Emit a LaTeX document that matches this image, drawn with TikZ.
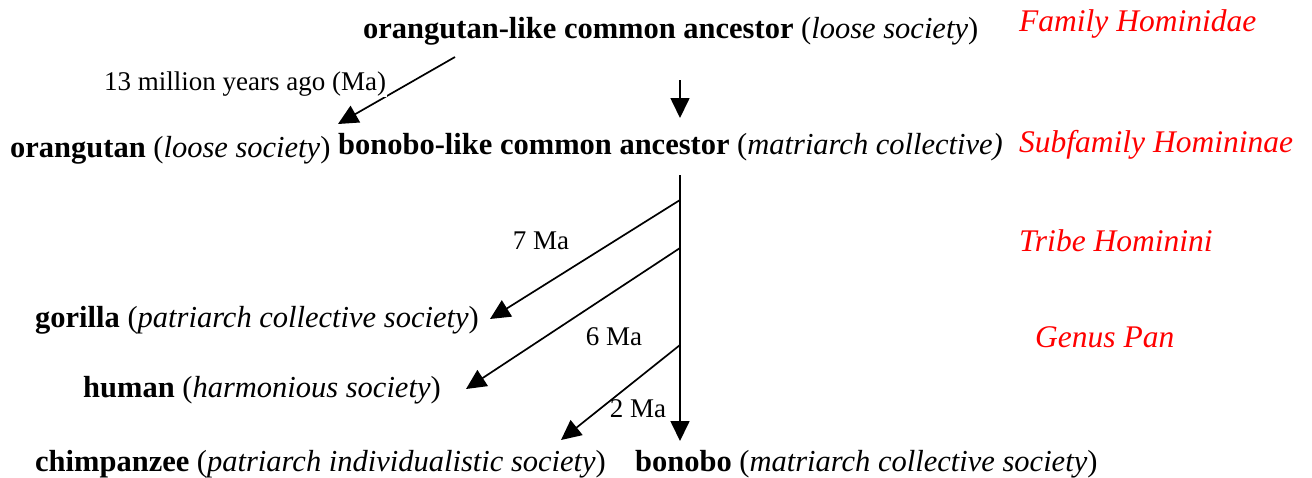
\documentclass[tikz,border=0pt]{standalone}
\usepackage{fontspec}
\setmainfont{Liberation Serif}
\usepackage{tikz}
\usetikzlibrary{arrows.meta}
\tikzstyle{species} = [anchor=west, inner sep=0pt, font=\fontsize{30.5}{36}\selectfont]
\tikzstyle{taxon} = [anchor=west, inner sep=0pt, text=red, font=\fontsize{31.5}{36}\selectfont\itshape]
\tikzstyle{age} = [inner sep=1pt, fill=white, font=\fontsize{27}{32}\selectfont]
\tikzstyle{arrow} = [line width=1.7pt, -{Triangle[length=20pt,width=19pt]}]

\begin{document}
\begin{tikzpicture}[x=1pt,y=-1pt]
	\useasboundingbox (0,0) rectangle (1312,477);
	% common ancestors
	\node[species](orangutan_like) at (363,31){\textbf{orangutan-like common ancestor} (\textit{loose society})};
	\node[species](bonobo_like) at (338,147){\textbf{bonobo-like common ancestor} (\textit{matriarch collective)}};
	\node[species](orangutan) at (10,150){\textbf{orangutan} (\textit{loose society})};
	% living species
	\node[species](gorilla) at (35,320){\textbf{gorilla} (\textit{patriarch collective society})};
	\node[species](human) at (83,390){\textbf{human} (\textit{harmonious society})};
	\node[species](chimpanzee) at (35,464){\textbf{chimpanzee} (\textit{patriarch individualistic society})};
	\node[species](bonobo) at (635,464){\textbf{bonobo} (\textit{matriarch collective society})};
	% taxonomic ranks
	\node[taxon](family) at (1019,24){Family Hominidae};
	\node[taxon](subfamily) at (1019,145){Subfamily Homininae};
	\node[taxon](tribe) at (1019,241){Tribe Hominini};
	\node[taxon](genus) at (1035,337){Genus Pan};

	% split points
	\coordinate (split_13) at (455,57);
	\coordinate (trunk_top) at (680,80);
	\coordinate (trunk_mid) at (680,175);
	\coordinate (split_7) at (680,200);
	\coordinate (split_6) at (680,248);
	\coordinate (split_2) at (680,345);

	\draw[arrow] (split_13) -- (338,124);
	\draw[arrow] (trunk_top) -- (680,118);
	\draw[arrow] (trunk_mid) -- (680,441);
	\draw[arrow] (split_7) -- (490,319);
	\draw[arrow] (split_6) -- (466,389);
	\draw[arrow] (split_2) -- (561,440);

	\node[age](ma13) at (245,84){13 million years ago (Ma)};
	\node[age, fill=none](ma7) at (541,241){7 Ma};
	\node[age, fill=none](ma6) at (614,337){6 Ma};
	\node[age, fill=none](ma2) at (638,409){2 Ma};
\end{tikzpicture}
\end{document}
